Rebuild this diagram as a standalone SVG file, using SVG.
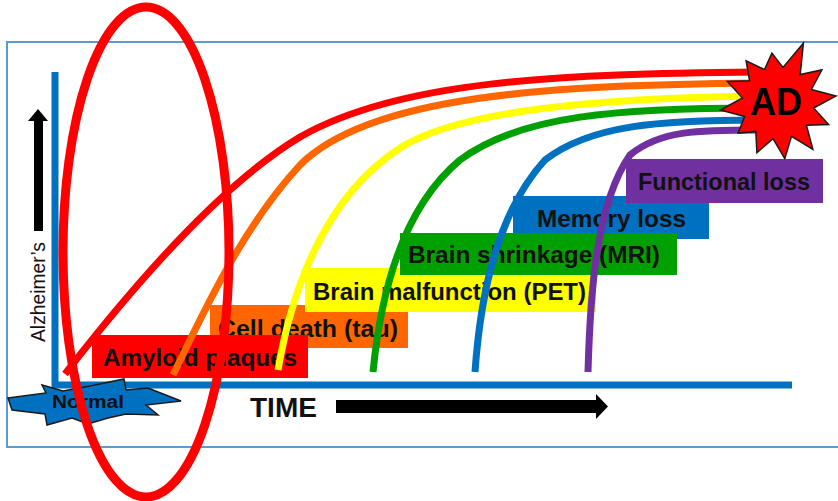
<svg xmlns="http://www.w3.org/2000/svg" width="838" height="501" viewBox="0 0 838 501">
<style>
.lbl{font-family:"Liberation Sans",Arial,sans-serif;font-weight:bold;font-size:24px;fill:#111}
.curve{fill:none;stroke-width:7;stroke-linecap:butt}
.star{stroke:#1a1a1a;stroke-width:1.5;stroke-linejoin:miter}
</style>
<rect width="838" height="501" fill="#fff"/>
<rect id="frame" x="7" y="42" width="840" height="405" fill="none" stroke="#5B9BD5" stroke-width="2"/>
<g id="axes">
<line x1="55" y1="72" x2="55" y2="388" stroke="#0070C0" stroke-width="7"/>
<line x1="52" y1="385" x2="792" y2="385" stroke="#0070C0" stroke-width="7"/>
</g>
<g id="y-label">
<polygon points="38,109 48,121 43,121 43,231 34,231 34,121 28,121" fill="#000"/>
<text transform="translate(45,342) rotate(-90)" font-family="Liberation Sans,Arial,sans-serif" font-size="20" fill="#111" textLength="100" lengthAdjust="spacingAndGlyphs">Alzheimer’s</text>
</g>
<g id="time">
<text x="250" y="417" font-family="Liberation Sans,Arial,sans-serif" font-weight="bold" font-size="28" fill="#111">TIME</text>
<polygon points="336,400 596,400 596,394 608,406.5 596,419 596,413 336,413" fill="#000"/>
</g>
<g id="label-cell-death"><rect x="210" y="305" width="198" height="43" fill="#FF6600"/><text class="lbl" x="218" y="337" textLength="180" lengthAdjust="spacingAndGlyphs">Cell death (tau)</text></g>
<g id="label-amyloid"><rect x="92" y="335" width="216" height="43" fill="#FF0000"/><text class="lbl" x="103" y="366" textLength="194" lengthAdjust="spacingAndGlyphs">Amyloid plaques</text></g>
<g id="label-pet"><rect x="305" y="268" width="291" height="44" fill="#FFFF00"/><text class="lbl" x="313" y="300" textLength="273" lengthAdjust="spacingAndGlyphs">Brain malfunction (PET)</text></g>
<g id="label-memory"><rect x="513" y="196" width="196" height="43" fill="#0070C0"/><text class="lbl" x="537" y="227" textLength="149" lengthAdjust="spacingAndGlyphs">Memory loss</text></g>
<g id="label-mri"><rect x="400" y="233" width="277" height="42" fill="#00A000"/><text class="lbl" x="408" y="263" textLength="252" lengthAdjust="spacingAndGlyphs">Brain shrinkage (MRI)</text></g>
<g id="label-functional"><rect x="626" y="159" width="197" height="44" fill="#7030A0"/><text class="lbl" x="638" y="190" textLength="172" lengthAdjust="spacingAndGlyphs">Functional loss</text></g>
<g id="connectors">
<path class="curve" stroke="#FF0000" d="M65 374 C130 290,220 185,300 137 C400 80,560 74,760 72"/>
<path class="curve" stroke="#FF6600" d="M173 375 C200 320,240 230,300 165 C370 95,550 85,760 83"/>
<path class="curve" stroke="#FFFF00" d="M278 370 C290 300,320 200,400 148 C460 110,600 98,760 96"/>
<path class="curve" stroke="#00A000" d="M373 372 C380 300,400 210,460 160 C520 115,620 108,760 108"/>
<path class="curve" stroke="#0070C0" d="M475 372 C480 300,495 215,545 160 C590 125,660 120,760 120"/>
<path class="curve" stroke="#7030A0" d="M588 372 C590 300,595 205,630 155 C660 130,700 130,760 130"/>
</g>
<g id="normal">
<polygon class="star" fill="#0070C0" points="8,398 46,393 42,385 63,391 90,386 124,379 126,390 148,388 181,401 146,405 158,415 126,414 108,418 88,424 72,418 47,425 45,414 12,410"/>
<text x="52" y="408" font-family="Liberation Sans,Arial,sans-serif" font-weight="bold" font-size="18" fill="#111" textLength="72" lengthAdjust="spacingAndGlyphs">Normal</text>
</g>
<g id="ad">
<polygon class="star" fill="#FF0000" points="803.4,43.2 800.2,74.6 821.9,69.9 811.4,89.5 836,96 813.6,108 828.6,124.5 806.4,125.2 812.9,149.3 791.5,136.4 784.8,158.6 773,138.6 756.9,152.7 755.8,131.4 738.1,133.1 744.6,116.5 720.4,110.1 742.4,98 727.4,81.5 749.6,80.8 746.1,60.7 764.5,69.6 771.9,53.3 783,67.4"/>
<text x="776" y="115" text-anchor="middle" font-family="Liberation Sans,Arial,sans-serif" font-weight="bold" font-size="38" fill="#000" textLength="52" lengthAdjust="spacingAndGlyphs">AD</text>
</g>
<ellipse id="highlight" cx="146" cy="252" rx="83" ry="245" fill="none" stroke="#FF0000" stroke-width="9"/>
</svg>
